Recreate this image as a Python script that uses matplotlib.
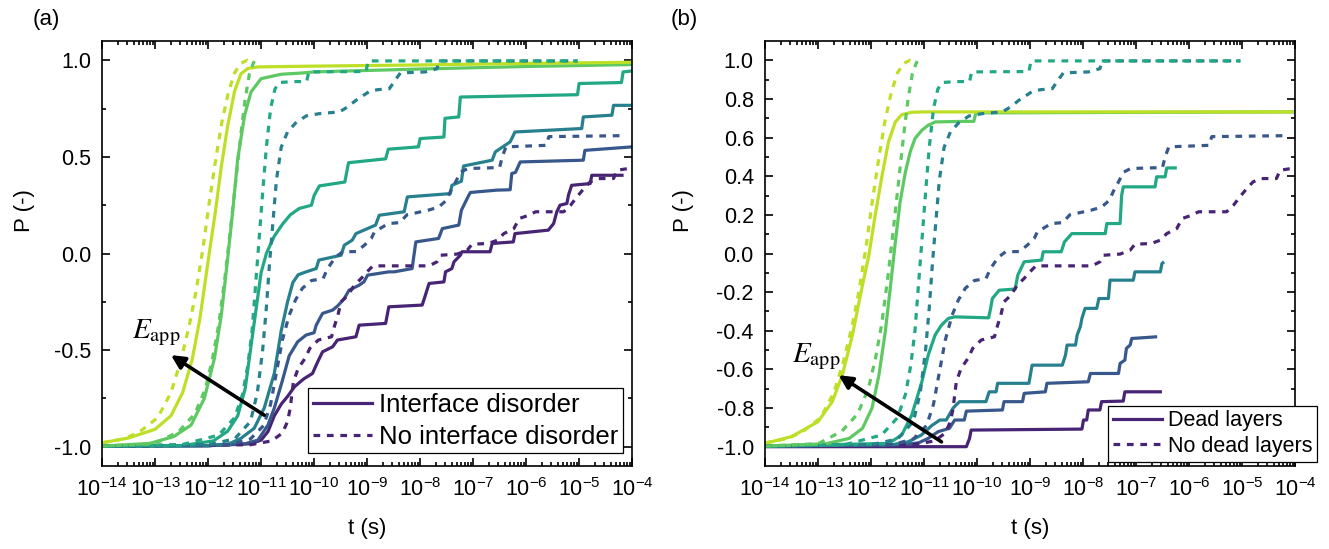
import numpy as np
import matplotlib
matplotlib.use("Agg")
import matplotlib.pyplot as plt
from matplotlib.lines import Line2D
from matplotlib.ticker import FixedLocator, LogLocator, NullFormatter, FuncFormatter

plt.rcParams['font.family'] = ['Liberation Sans', 'DejaVu Sans']
plt.rcParams['mathtext.fontset'] = 'custom'
plt.rcParams['mathtext.rm'] = 'Liberation Sans'
plt.rcParams['mathtext.it'] = 'Liberation Sans:italic'

# log10(t) and P

# dotted curves (same reference data in both panels)
ref0_lt = [-14, -13.6, -13.3, -12.95, -12.7, -12.52, -12.36, -12.23, -12.1, -11.98, -11.86, -11.74, -11.62, -11.5, -11.38, -11.26, -11.18]
ref0_p = [-0.98, -0.96, -0.925, -0.85, -0.72, -0.56, -0.38, -0.2, 0.02, 0.26, 0.48, 0.68, 0.83, 0.935, 0.985, 1.0, 0.985]
ref1_lt = [-14, -13.0, -12.55, -12.25, -12.05, -11.92, -11.8, -11.68, -11.58, -11.48, -11.38, -11.3, -11.22, -11.14, -11.08]
ref1_p = [-0.997, -0.985, -0.92, -0.83, -0.7, -0.55, -0.37, -0.12, 0.12, 0.37, 0.62, 0.8, 0.93, 0.99, 0.975]
ref2_lt = [-14, -12.5, -11.8, -11.5, -11.35, -11.25, -11.17, -11.1, -11.03, -10.96, -10.9, -10.82, -10.74, -10.66, -10.4, -10.14, -10.1, -9.02, -8.98, -5.03]
ref2_p = [-0.997, -0.99, -0.94, -0.85, -0.73, -0.58, -0.4, -0.15, 0.1, 0.35, 0.55, 0.75, 0.85, 0.885, 0.89, 0.89, 0.94, 0.942, 0.997, 0.997]
ref3_lt = [-14, -12, -11.5, -11.2, -11.07, -10.97, -10.9, -10.84, -10.78, -10.71, -10.62, -10.5, -10.35, -10.15, -9.9, -9.52, -9.36, -9.21, -8.95, -8.8, -8.58, -8.45, -8.37, -7.9, -7.68, -7.64, -5.03]
ref3_p = [-0.997, -0.99, -0.96, -0.87, -0.72, -0.5, -0.28, -0.05, 0.15, 0.38, 0.55, 0.63, 0.675, 0.712, 0.724, 0.733, 0.76, 0.793, 0.84, 0.848, 0.853, 0.905, 0.935, 0.94, 0.957, 0.997, 0.997]
ref4_lt = [-14, -11.6, -11.2, -10.95, -10.82, -10.72, -10.6, -10.47, -10.35, -10.22, -10.05, -9.83, -9.75, -9.6, -9.46, -9.2, -9.05, -8.92, -8.86, -8.6, -8.38, -8.25, -7.85, -7.65, -7.5, -7.43, -7.33, -7.24, -7.1, -6.5, -6.45, -6.38, -5.62, -5.57, -4.18]
ref4_p = [-0.997, -0.99, -0.96, -0.89, -0.78, -0.63, -0.45, -0.32, -0.24, -0.18, -0.14, -0.13, -0.08, -0.02, 0.009, 0.01, 0.043, 0.078, 0.112, 0.155, 0.16, 0.2, 0.224, 0.24, 0.276, 0.32, 0.37, 0.42, 0.44, 0.445, 0.5, 0.552, 0.56, 0.605, 0.61]
ref5_lt = [-14, -11.2, -10.8, -10.6, -10.5, -10.45, -10.39, -10.3, -10.17, -10.08, -9.92, -9.67, -9.61, -9.55, -9.49, -9.36, -9.24, -9.11, -9.0, -8.89, -7.83, -7.68, -7.61, -7.3, -7.11, -7.02, -6.71, -6.54, -6.42, -6.23, -6.13, -5.95, -5.82, -5.29, -5.16, -5.04, -4.91, -4.79, -4.63, -4.35, -4.28, -4.0]
ref5_p = [-0.997, -0.99, -0.97, -0.93, -0.87, -0.8, -0.664, -0.595, -0.543, -0.491, -0.448, -0.431, -0.371, -0.319, -0.25, -0.216, -0.164, -0.129, -0.095, -0.064, -0.064, -0.043, -0.009, -0.003, 0.017, 0.048, 0.052, 0.069, 0.103, 0.129, 0.181, 0.198, 0.216, 0.216, 0.25, 0.293, 0.336, 0.371, 0.388, 0.388, 0.431, 0.443]

# (a) interface disorder, solid
a0_lt = [-14, -13.5, -13.0, -12.7, -12.48, -12.3, -12.15, -12.0, -11.86, -11.75, -11.63, -11.5, -11.38, -11.25, -11.05, -10, -8, -6, -4]
a0_p = [-0.98, -0.955, -0.91, -0.84, -0.72, -0.55, -0.33, -0.04, 0.22, 0.45, 0.66, 0.84, 0.93, 0.958, 0.966, 0.97, 0.976, 0.984, 0.99]
a1_lt = [-14, -13.1, -12.65, -12.32, -12.07, -11.88, -11.75, -11.63, -11.53, -11.44, -11.31, -11.19, -11.0, -10.62, -10.25, -10, -8, -6, -4]
a1_p = [-0.997, -0.983, -0.948, -0.888, -0.75, -0.543, -0.319, -0.026, 0.233, 0.491, 0.716, 0.836, 0.905, 0.928, 0.934, 0.94, 0.955, 0.968, 0.978]
a2_lt = [-14, -12.5, -11.9, -11.63, -11.44, -11.3, -11.2, -11.1, -11.0, -10.9, -10.75, -10.6, -10.45, -10.28, -10.05, -10.0, -9.9, -9.42, -9.35, -8.65, -8.6, -8.03, -8.0, -7.55, -7.53, -7.27, -7.24, -5.03, -5.0, -4.2, -4.17, -4.0]
a2_p = [-0.997, -0.995, -0.97, -0.92, -0.84, -0.7, -0.5, -0.3, -0.1, 0.0, 0.09, 0.15, 0.2, 0.233, 0.25, 0.3, 0.35, 0.37, 0.47, 0.49, 0.54, 0.552, 0.595, 0.603, 0.7, 0.707, 0.81, 0.822, 0.88, 0.885, 0.94, 0.945]
a3_lt = [-14, -12, -11.6, -11.38, -11.13, -10.94, -10.75, -10.62, -10.5, -10.4, -10.3, -10.15, -9.96, -9.91, -9.49, -9.43, -9.28, -9.21, -8.84, -8.77, -8.3, -8.24, -7.43, -7.4, -7.22, -7.18, -6.64, -6.58, -6.3, -6.21, -4.95, -4.92, -4.38, -4.35, -4.0]
a3_p = [-0.997, -0.995, -0.985, -0.957, -0.905, -0.8, -0.62, -0.4, -0.25, -0.15, -0.11, -0.095, -0.078, -0.034, -0.009, 0.043, 0.069, 0.103, 0.147, 0.198, 0.216, 0.293, 0.31, 0.353, 0.374, 0.453, 0.483, 0.526, 0.578, 0.629, 0.647, 0.707, 0.716, 0.767, 0.767]
a4_lt = [-14, -12, -11.3, -11.06, -10.87, -10.75, -10.6, -10.47, -10.31, -10.15, -10.0, -9.96, -9.84, -9.65, -9.55, -9.43, -9.34, -9.15, -9.06, -8.99, -8.59, -8.49, -8.15, -8.08, -7.65, -7.58, -7.27, -7.22, -7.08, -7.05, -6.55, -6.3, -6.27, -6.2, -6.11, -4.92, -4.89, -4.0]
a4_p = [-0.997, -0.995, -0.985, -0.966, -0.888, -0.8, -0.66, -0.53, -0.457, -0.422, -0.41, -0.371, -0.31, -0.293, -0.27, -0.233, -0.19, -0.164, -0.147, -0.112, -0.095, -0.095, -0.078, 0.06, 0.078, 0.129, 0.147, 0.224, 0.302, 0.316, 0.328, 0.33, 0.414, 0.42, 0.474, 0.483, 0.534, 0.552]
a5_lt = [-14, -12, -11.2, -11.0, -10.87, -10.75, -10.62, -10.5, -10.37, -10.2, -10.03, -9.93, -9.84, -9.65, -9.56, -9.21, -9.15, -8.65, -8.59, -7.96, -7.9, -7.83, -7.55, -7.52, -7.4, -7.36, -7.24, -7.21, -6.68, -6.64, -6.24, -6.21, -5.58, -5.48, -5.42, -5.36, -5.23, -5.2, -5.14, -4.79, -4.76, -4.16]
a5_p = [-0.997, -0.995, -0.985, -0.966, -0.922, -0.84, -0.78, -0.74, -0.69, -0.65, -0.621, -0.56, -0.509, -0.483, -0.448, -0.431, -0.371, -0.362, -0.276, -0.267, -0.216, -0.155, -0.147, -0.095, -0.078, -0.043, -0.009, 0.009, 0.009, 0.052, 0.06, 0.103, 0.121, 0.155, 0.216, 0.25, 0.259, 0.302, 0.353, 0.362, 0.405, 0.405]

# (b) dead layers, solid
b0_lt = [-14, -13.5, -13.0, -12.73, -12.54, -12.35, -12.2, -12.04, -11.92, -11.79, -11.67, -11.54, -11.42, -11.23, -11.0, -4.0]
b0_p = [-0.983, -0.948, -0.871, -0.767, -0.629, -0.422, -0.216, -0.009, 0.198, 0.405, 0.578, 0.681, 0.719, 0.731, 0.733, 0.733]
b1_lt = [-14, -12.85, -12.41, -12.16, -11.98, -11.85, -11.73, -11.63, -11.54, -11.45, -11.35, -11.26, -11.17, -11.04, -10.92, -10.79, -10.29, -10.06, -10.02, -4.0]
b1_p = [-0.997, -0.985, -0.957, -0.905, -0.8, -0.629, -0.405, -0.164, 0.06, 0.267, 0.422, 0.526, 0.595, 0.638, 0.664, 0.681, 0.684, 0.684, 0.728, 0.733]
b2_lt = [-14, -11.67, -11.42, -11.23, -11.04, -10.92, -10.79, -10.67, -10.54, -10.42, -9.78, -9.74, -9.71, -9.58, -9.28, -9.23, -9.11, -8.78, -8.75, -8.41, -8.35, -8.21, -7.58, -7.55, -7.3, -7.27, -7.24, -6.64, -6.61, -6.45, -6.42, -6.23]
b2_p = [-0.997, -0.983, -0.94, -0.836, -0.664, -0.526, -0.422, -0.371, -0.336, -0.328, -0.333, -0.28, -0.233, -0.19, -0.184, -0.112, -0.043, -0.034, 0.009, 0.009, 0.06, 0.103, 0.103, 0.155, 0.155, 0.302, 0.345, 0.345, 0.397, 0.397, 0.443, 0.443]
b3_lt = [-14, -11.6, -11.3, -11.05, -10.85, -10.7, -10.58, -10.45, -10.33, -9.83, -9.77, -9.64, -9.61, -9.02, -8.96, -8.39, -8.33, -8.3, -8.14, -8.11, -8.05, -8.02, -7.96, -7.74, -7.7, -7.52, -7.49, -7.05, -7.02, -6.54, -6.51, -6.47]
b3_p = [-0.997, -0.99, -0.975, -0.94, -0.89, -0.862, -0.862, -0.8, -0.767, -0.767, -0.716, -0.716, -0.672, -0.672, -0.578, -0.578, -0.526, -0.474, -0.474, -0.422, -0.379, -0.336, -0.284, -0.284, -0.233, -0.233, -0.138, -0.138, -0.095, -0.095, -0.052, -0.043]
b4_lt = [-14, -11.4, -11.1, -10.92, -10.73, -10.52, -10.42, -10.24, -10.2, -9.52, -9.49, -9.14, -9.11, -8.71, -8.68, -7.9, -7.86, -7.33, -7.3, -7.21, -7.18, -7.11, -7.08, -6.6]
b4_p = [-0.997, -0.99, -0.98, -0.957, -0.922, -0.905, -0.862, -0.862, -0.816, -0.81, -0.767, -0.767, -0.724, -0.716, -0.672, -0.664, -0.621, -0.621, -0.569, -0.552, -0.491, -0.474, -0.44, -0.431]
b5_lt = [-14, -10.2, -10.14, -10.11, -8.02, -7.99, -7.93, -7.9, -7.68, -7.65, -7.24, -7.21, -6.51]
b5_p = [-1.0, -1.0, -0.957, -0.914, -0.909, -0.862, -0.862, -0.81, -0.81, -0.767, -0.764, -0.716, -0.716]

levels = [0.9, 0.75, 0.6, 0.43, 0.27, 0.1]   # yellow ... purple
colors = [plt.cm.viridis(v) for v in levels]

ref = [(ref0_lt, ref0_p), (ref1_lt, ref1_p), (ref2_lt, ref2_p),
       (ref3_lt, ref3_p), (ref4_lt, ref4_p), (ref5_lt, ref5_p)]
sol_a = [(a0_lt, a0_p), (a1_lt, a1_p), (a2_lt, a2_p),
         (a3_lt, a3_p), (a4_lt, a4_p), (a5_lt, a5_p)]
sol_b = [(b0_lt, b0_p), (b1_lt, b1_p), (b2_lt, b2_p),
         (b3_lt, b3_p), (b4_lt, b4_p), (b5_lt, b5_p)]

LW = 2.3
DASH = (2.1, 2.1)

fig = plt.figure(figsize=(13.29, 5.49), dpi=100)
ax_a = fig.add_axes([0.0768, 0.1512, 0.3988, 0.7741])
ax_b = fig.add_axes([0.5756, 0.1512, 0.3988, 0.7741])


def style(ax, yt, ymin):
    ax.set_xscale('log')
    ax.set_xlim(1e-14, 1e-4)
    ax.set_ylim(-1.1, 1.1)
    ax.xaxis.set_major_locator(LogLocator(base=10, numticks=30))
    ax.xaxis.set_minor_locator(LogLocator(base=10, subs=np.arange(2, 10), numticks=30))
    ax.xaxis.set_minor_formatter(NullFormatter())
    ax.xaxis.set_major_formatter(FuncFormatter(lambda v, pos: r'$10^{%d}$' % round(np.log10(v))))
    ax.yaxis.set_major_locator(FixedLocator(yt))
    ax.yaxis.set_minor_locator(FixedLocator(ymin))
    ax.yaxis.set_major_formatter(FuncFormatter(lambda v, pos: ('%.1f' % v).replace('-0.0', '0.0')))
    ax.tick_params(which='both', direction='in', top=True, right=True, width=1.2, labelsize=15.5)
    ax.tick_params(which='major', length=6)
    ax.tick_params(which='minor', length=3)
    ax.tick_params(axis='x', pad=9)
    ax.tick_params(axis='y', pad=8)
    for s in ax.spines.values():
        s.set_linewidth(1.2)
    ax.set_xlabel('t (s)', fontsize=16, va='center')
    ax.xaxis.set_label_coords(0.5, -0.146)


for ax, sols in [(ax_a, sol_a), (ax_b, sol_b)]:
    for i in range(5, -1, -1):
        lt, p = sols[i]
        ax.plot(10.0 ** np.array(lt), p, color=colors[i], lw=LW, solid_capstyle='butt')
    for i in range(5, -1, -1):
        lt, p = ref[i]
        ax.plot(10.0 ** np.array(lt), p, color=colors[i], lw=LW, dashes=DASH)

style(ax_a, [-1.0, -0.5, 0.0, 0.5, 1.0], [-0.75, -0.25, 0.25, 0.75])
style(ax_b, list(np.round(np.arange(-1.0, 1.01, 0.2), 1)),
      list(np.round(np.arange(-0.9, 0.91, 0.2), 1)))

ax_a.set_ylabel('P (-)', fontsize=16, ha='center', va='center')
ax_a.yaxis.set_label_coords(-0.146, 0.6)
ax_b.set_ylabel('P (-)', fontsize=16, ha='center', va='center')
ax_b.yaxis.set_label_coords(-0.153, 0.6)

fig.text(46 / 1329, 1 - 20 / 549, '(a)', fontsize=16, ha='center', va='center')
fig.text(684 / 1329, 1 - 20 / 549, '(b)', fontsize=16, ha='center', va='center')

# E_app arrows
arrow = dict(arrowstyle='-|>', color='k', lw=2.6, mutation_scale=20, shrinkA=0, shrinkB=0)
ax_a.annotate('', xy=(10 ** -12.70, -0.526), xytext=(10 ** -10.94, -0.837), arrowprops=arrow)
ax_a.text(10 ** -12.97, -0.41, r'$E_{\mathrm{app}}$', fontsize=21, math_fontfamily='stix',
          ha='center', va='center')
ax_b.annotate('', xy=(10 ** -12.61, -0.63), xytext=(10 ** -10.67, -0.975), arrowprops=arrow)
ax_b.text(10 ** -13.04, -0.535, r'$E_{\mathrm{app}}$', fontsize=21, math_fontfamily='stix',
          ha='center', va='center')

# legends
h_sol = Line2D([], [], color=colors[5], lw=LW)
h_dot = Line2D([], [], color=colors[5], lw=LW, dashes=DASH)

leg_a = ax_a.legend([h_sol, h_dot], ['Interface disorder', 'No interface disorder'],
                    loc='upper left', bbox_to_anchor=(308 / 1329, 1 - 388 / 549),
                    bbox_transform=fig.transFigure, borderaxespad=0, fontsize=18.5,
                    handlelength=2.3, handletextpad=0.27, borderpad=0.19, labelspacing=0.3,
                    fancybox=False, framealpha=1, edgecolor='k')
leg_a.get_frame().set_linewidth(0.9)

leg_b = ax_b.legend([h_sol, h_dot], ['Dead layers', 'No dead layers'],
                    loc='upper left', bbox_to_anchor=(1108 / 1329, 1 - 405.5 / 549),
                    bbox_transform=fig.transFigure, borderaxespad=0, fontsize=15.5,
                    handlelength=2.3, handletextpad=0.25, borderpad=0.22, labelspacing=0.22,
                    fancybox=False, framealpha=1, edgecolor='k')
leg_b.get_frame().set_linewidth(0.9)

fig.savefig('out.png', dpi=100)
